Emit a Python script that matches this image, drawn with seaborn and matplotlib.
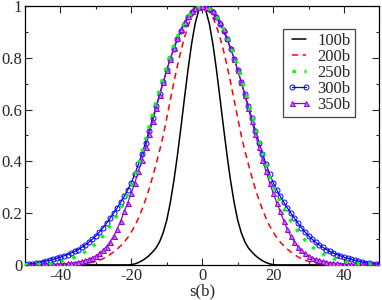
import numpy as np
import matplotlib
matplotlib.use("Agg")
import matplotlib.pyplot as plt
from matplotlib.ticker import MultipleLocator, FuncFormatter
import seaborn as sns

# s(b) grid, -50 .. 50
s = np.arange(-50, 51)

labels = ["100b", "200b", "250b", "300b", "350b"]

b100 = [0, 0, 0, 0, 0, 0, 0, 0, 0, 0,
        0, 0, 0, 0, 0, 0, 0, 0, 0, 0,
        0, 0, 0, 0, 0, 0, 0, 0, 0, 0,
        0.001, 0.004, 0.009, 0.016, 0.025, 0.036, 0.050, 0.066, 0.090, 0.125,
        0.173, 0.241, 0.325, 0.423, 0.532, 0.645, 0.755, 0.854, 0.932, 0.983,
        1.000,
        0.983, 0.932, 0.854, 0.755, 0.645, 0.532, 0.423, 0.325, 0.241, 0.173,
        0.125, 0.090, 0.066, 0.050, 0.036, 0.025, 0.016, 0.009, 0.004, 0.001,
        0, 0, 0, 0, 0, 0, 0, 0, 0, 0,
        0, 0, 0, 0, 0, 0, 0, 0, 0, 0,
        0, 0, 0, 0, 0, 0, 0, 0, 0, 0]

b200 = [0, 0, 0, 0, 0, 0, 0, 0, 0, 0,
        0.001, 0.001, 0.001, 0.002, 0.002, 0.003, 0.004, 0.005, 0.007, 0.010,
        0.013, 0.018, 0.024, 0.031, 0.040, 0.050, 0.061, 0.074, 0.088, 0.106,
        0.127, 0.151, 0.180, 0.214, 0.251, 0.293, 0.340, 0.390, 0.443, 0.500,
        0.568, 0.637, 0.705, 0.769, 0.828, 0.879, 0.922, 0.957, 0.981, 0.996,
        1.000,
        0.996, 0.981, 0.957, 0.922, 0.879, 0.828, 0.769, 0.705, 0.637, 0.568,
        0.500, 0.443, 0.390, 0.340, 0.293, 0.251, 0.214, 0.180, 0.151, 0.127,
        0.106, 0.088, 0.074, 0.061, 0.050, 0.040, 0.031, 0.024, 0.018, 0.013,
        0.010, 0.007, 0.005, 0.004, 0.003, 0.002, 0.002, 0.001, 0.001, 0.001,
        0, 0, 0, 0, 0, 0, 0, 0, 0, 0]

b250 = [0.001, 0.001, 0.002, 0.002, 0.003, 0.004, 0.005, 0.006, 0.008, 0.010,
        0.013, 0.016, 0.019, 0.024, 0.029, 0.035, 0.042, 0.051, 0.060, 0.070,
        0.082, 0.096, 0.111, 0.129, 0.150, 0.170, 0.192, 0.217, 0.244, 0.273,
        0.306, 0.344, 0.387, 0.434, 0.484, 0.533, 0.582, 0.631, 0.679, 0.726,
        0.770, 0.811, 0.848, 0.881, 0.911, 0.938, 0.960, 0.977, 0.990, 0.997,
        1.000,
        0.997, 0.990, 0.977, 0.960, 0.938, 0.911, 0.881, 0.848, 0.811, 0.770,
        0.726, 0.679, 0.631, 0.582, 0.533, 0.484, 0.434, 0.387, 0.344, 0.306,
        0.273, 0.244, 0.217, 0.192, 0.170, 0.150, 0.129, 0.111, 0.096, 0.082,
        0.070, 0.060, 0.051, 0.042, 0.035, 0.029, 0.024, 0.019, 0.016, 0.013,
        0.010, 0.008, 0.006, 0.005, 0.004, 0.003, 0.002, 0.002, 0.001, 0.001]

b300 = [0.003, 0.004, 0.005, 0.007, 0.009, 0.012, 0.015, 0.018, 0.022, 0.026,
        0.030, 0.035, 0.040, 0.046, 0.052, 0.059, 0.068, 0.077, 0.087, 0.099,
        0.112, 0.127, 0.143, 0.161, 0.180, 0.200, 0.220, 0.242, 0.265, 0.290,
        0.318, 0.352, 0.389, 0.429, 0.472, 0.518, 0.566, 0.613, 0.661, 0.708,
        0.753, 0.796, 0.835, 0.871, 0.904, 0.932, 0.956, 0.975, 0.989, 0.997,
        1.000,
        0.997, 0.989, 0.975, 0.956, 0.932, 0.904, 0.871, 0.835, 0.796, 0.753,
        0.708, 0.661, 0.613, 0.566, 0.518, 0.472, 0.429, 0.389, 0.352, 0.318,
        0.290, 0.265, 0.242, 0.220, 0.200, 0.180, 0.161, 0.143, 0.127, 0.112,
        0.099, 0.087, 0.077, 0.068, 0.059, 0.052, 0.046, 0.040, 0.035, 0.030,
        0.026, 0.022, 0.018, 0.015, 0.012, 0.009, 0.007, 0.005, 0.004, 0.003]

b350 = [0.001, 0.001, 0.001, 0.001, 0.001, 0.002, 0.002, 0.002, 0.003, 0.003,
        0.004, 0.005, 0.006, 0.007, 0.009, 0.011, 0.014, 0.018, 0.022, 0.028,
        0.035, 0.045, 0.057, 0.071, 0.089, 0.111, 0.138, 0.170, 0.207, 0.241,
        0.278, 0.318, 0.361, 0.407, 0.454, 0.504, 0.554, 0.605, 0.655, 0.705,
        0.752, 0.797, 0.839, 0.877, 0.910, 0.939, 0.962, 0.979, 0.991, 0.998,
        1.000,
        0.998, 0.991, 0.979, 0.962, 0.939, 0.910, 0.877, 0.839, 0.797, 0.752,
        0.705, 0.655, 0.605, 0.554, 0.504, 0.454, 0.407, 0.361, 0.318, 0.278,
        0.241, 0.207, 0.170, 0.138, 0.111, 0.089, 0.071, 0.057, 0.045, 0.035,
        0.028, 0.022, 0.018, 0.014, 0.011, 0.009, 0.007, 0.006, 0.005, 0.004,
        0.003, 0.003, 0.002, 0.002, 0.002, 0.001, 0.001, 0.001, 0.001, 0.001]

sns.set_style("ticks")
plt.rcParams["font.family"] = ["Liberation Serif", "DejaVu Serif"]
plt.rcParams["axes.unicode_minus"] = False

fig = plt.figure(figsize=(3.82, 3.0), dpi=100)
ax = fig.add_axes([0.0654, 0.117, 0.928, 0.863])

sns.lineplot(x=s, y=b100, ax=ax, color="black", lw=1.1, label=labels[0], zorder=2)
sns.lineplot(x=s, y=b200, ax=ax, color="#ff0000", lw=1.1, label=labels[1],
             dashes=False, linestyle=(0, (4, 3)), zorder=2)
sns.lineplot(x=s, y=b300, ax=ax, color="#0000ff", lw=0.9, label=labels[3],
             marker="o", markersize=3.6, markerfacecolor="none",
             markeredgecolor="#0000ff", markeredgewidth=0.7, zorder=3)
sns.lineplot(x=s, y=b350, ax=ax, color="#9400d3", lw=0.9, label=labels[4],
             marker="^", markersize=3.6, markerfacecolor="#c070f0",
             markeredgecolor="#9400d3", markeredgewidth=0.7, zorder=4)
sns.lineplot(x=s, y=b250, ax=ax, color="#00ff00", lw=2.4, label=labels[2],
             linestyle=(0, (1, 2.6)), zorder=5)

ax.set_xlim(-50, 50)
ax.set_ylim(0, 1)
ax.xaxis.set_major_locator(MultipleLocator(20))
ax.xaxis.set_minor_locator(MultipleLocator(10))
ax.yaxis.set_major_locator(MultipleLocator(0.2))
ax.yaxis.set_minor_locator(MultipleLocator(0.1))
ax.yaxis.set_major_formatter(FuncFormatter(lambda v, p: "%g" % round(v, 2)))
ax.tick_params(which="both", direction="in", top=True, right=True,
               width=0.8, labelsize=12, pad=2)
ax.tick_params(which="major", length=5)
ax.tick_params(which="minor", length=2.5)
for sp in ax.spines.values():
    sp.set_linewidth(0.9)
    sp.set_color("black")

ax.set_xlabel("s(b)", fontsize=12, labelpad=0)
ax.set_ylabel("")

h, l = ax.get_legend_handles_labels()
order = [l.index(x) for x in labels]
leg = ax.legend([h[i] for i in order], [l[i] for i in order],
                loc="upper left", bbox_to_anchor=(0.728, 0.911),
                borderaxespad=0, fontsize=12, numpoints=2, fancybox=False,
                framealpha=1, edgecolor="#444444", labelspacing=0.0,
                handlelength=1.4, handletextpad=0.4, borderpad=0.25)
leg.get_frame().set_linewidth(0.9)

fig.savefig("out.png", dpi=100)
